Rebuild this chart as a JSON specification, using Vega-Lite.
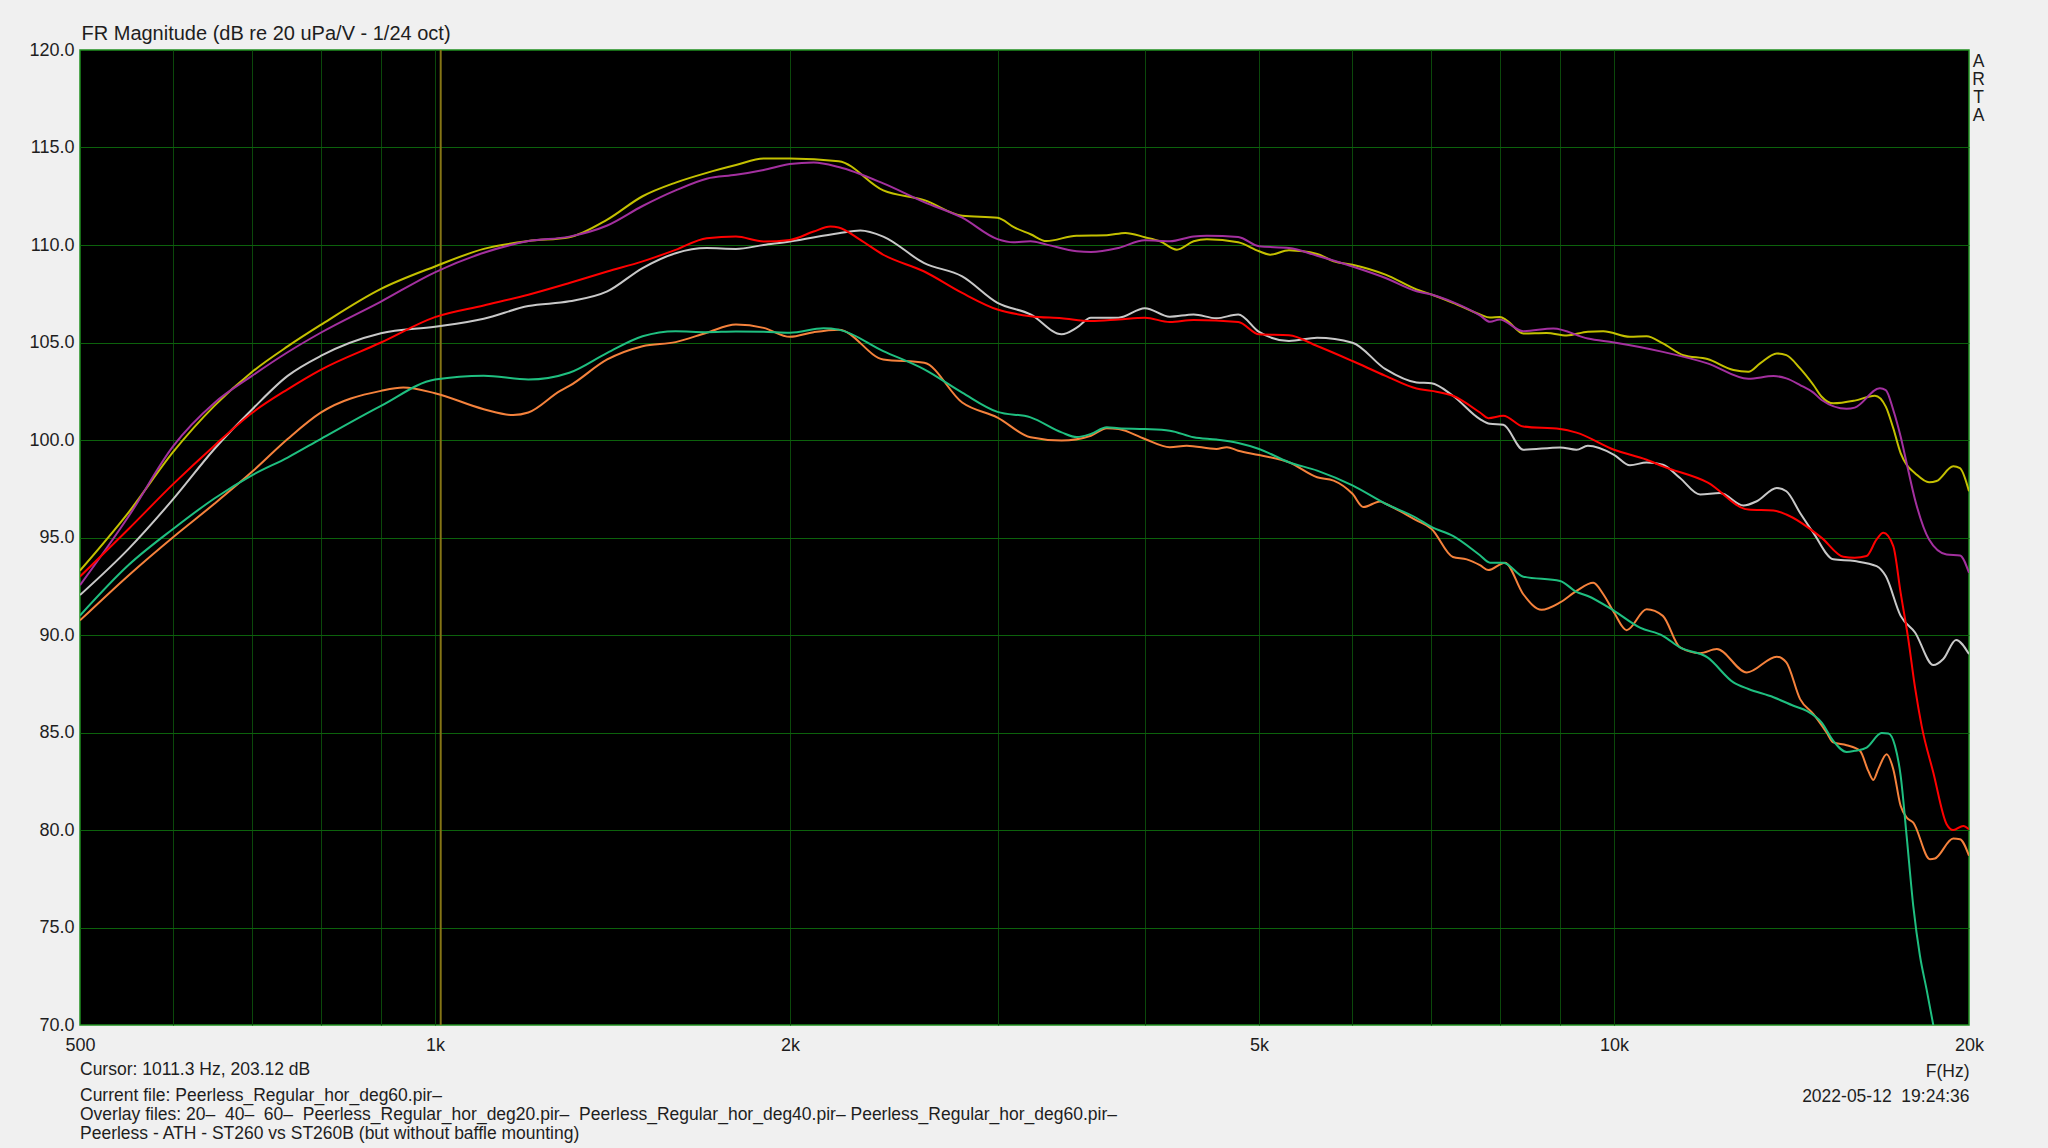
{
  "$schema": "https://vega.github.io/schema/vega-lite/v6.json",
  "width": 1889,
  "height": 975,
  "autosize": {"type": "none"},
  "padding": {"left": 80, "top": 50, "right": 79, "bottom": 123},
  "background": "#f0f0f0",
  "config": {
    "font": "Liberation Sans",
    "view": {"fill": "#000000", "stroke": "#1f8f1f", "strokeWidth": 1.5}
  },
  "title": {
    "text": "Cursor: 1011.3 Hz, 203.12 dB",
    "subtitle": [
      "Current file: Peerless_Regular_hor_deg60.pir–",
      "Overlay files: 20–\u00a0 40–\u00a0 60–\u00a0 Peerless_Regular_hor_deg20.pir–\u00a0 Peerless_Regular_hor_deg40.pir– Peerless_Regular_hor_deg60.pir–",
      "Peerless - ATH - ST260 vs ST260B (but without baffle mounting)"
    ],
    "orient": "bottom",
    "anchor": "start",
    "frame": "group",
    "offset": -44,
    "fontSize": 17.5,
    "fontWeight": "normal",
    "color": "#1e1e1e",
    "subtitleFontSize": 17.5,
    "subtitleColor": "#1e1e1e",
    "subtitleLineHeight": 19.4,
    "subtitlePadding": 8.5
  },
  "datasets": {
    "fr": [
      {"s":"20","f":500,"db":93.3},{"s":"20","f":550,"db":96.3},{"s":"20","f":600,"db":99.4},{"s":"20","f":650,"db":101.75},{"s":"20","f":700,"db":103.5},{"s":"20","f":750,"db":104.8},{"s":"20","f":800,"db":105.9},{"s":"20","f":900,"db":107.75},{"s":"20","f":1000,"db":108.9},{"s":"20","f":1100,"db":109.8},{"s":"20","f":1200,"db":110.2},{"s":"20","f":1300,"db":110.4},{"s":"20","f":1400,"db":111.3},{"s":"20","f":1500,"db":112.5},{"s":"20","f":1600,"db":113.2},{"s":"20","f":1700,"db":113.7},{"s":"20","f":1800,"db":114.1},{"s":"20","f":1900,"db":114.44},{"s":"20","f":2000,"db":114.44},{"s":"20","f":2200,"db":114.3},{"s":"20","f":2400,"db":112.8},{"s":"20","f":2600,"db":112.3},{"s":"20","f":2800,"db":111.5},{"s":"20","f":3000,"db":111.4},{"s":"20","f":3100,"db":110.9},{"s":"20","f":3200,"db":110.55},{"s":"20","f":3300,"db":110.2},{"s":"20","f":3500,"db":110.48},{"s":"20","f":3714,"db":110.5},{"s":"20","f":3850,"db":110.62},{"s":"20","f":4000,"db":110.4},{"s":"20","f":4121,"db":110.19},{"s":"20","f":4258,"db":109.76},{"s":"20","f":4400,"db":110.19},{"s":"20","f":4515,"db":110.3},{"s":"20","f":4800,"db":110.14},{"s":"20","f":5000,"db":109.68},{"s":"20","f":5108,"db":109.5},{"s":"20","f":5300,"db":109.73},{"s":"20","f":5600,"db":109.54},{"s":"20","f":5783,"db":109.17},{"s":"20","f":6000,"db":108.99},{"s":"20","f":6400,"db":108.48},{"s":"20","f":6800,"db":107.72},{"s":"20","f":7000,"db":107.46},{"s":"20","f":7300,"db":107.04},{"s":"20","f":7696,"db":106.44},{"s":"20","f":7848,"db":106.28},{"s":"20","f":8000,"db":106.31},{"s":"20","f":8108,"db":106.14},{"s":"20","f":8376,"db":105.46},{"s":"20","f":8766,"db":105.49},{"s":"20","f":9116,"db":105.36},{"s":"20","f":9500,"db":105.55},{"s":"20","f":9792,"db":105.58},{"s":"20","f":10315,"db":105.29},{"s":"20","f":10657,"db":105.32},{"s":"20","f":11000,"db":104.95},{"s":"20","f":11449,"db":104.35},{"s":"20","f":12000,"db":104.15},{"s":"20","f":12625,"db":103.59},{"s":"20","f":13000,"db":103.5},{"s":"20","f":13300,"db":103.93},{"s":"20","f":13740,"db":104.44},{"s":"20","f":14000,"db":104.35},{"s":"20","f":14381,"db":103.67},{"s":"20","f":14760,"db":102.82},{"s":"20","f":15000,"db":102.22},{"s":"20","f":15344,"db":101.88},{"s":"20","f":16000,"db":102.02},{"s":"20","f":16644,"db":102.27},{"s":"20","f":17000,"db":101.71},{"s":"20","f":17251,"db":100.6},{"s":"20","f":17500,"db":99.33},{"s":"20","f":17706,"db":98.73},{"s":"20","f":18000,"db":98.3},{"s":"20","f":18500,"db":97.83},{"s":"20","f":18775,"db":97.9},{"s":"20","f":19395,"db":98.65},{"s":"20","f":19650,"db":98.56},{"s":"20","f":20000,"db":97.37},

      {"s":"40","f":500,"db":92.05},{"s":"40","f":550,"db":94.43},{"s":"40","f":600,"db":96.98},{"s":"40","f":650,"db":99.54},{"s":"40","f":700,"db":101.58},{"s":"40","f":750,"db":103.29},{"s":"40","f":800,"db":104.31},{"s":"40","f":900,"db":105.47},{"s":"40","f":1000,"db":105.81},{"s":"40","f":1100,"db":106.22},{"s":"40","f":1200,"db":106.87},{"s":"40","f":1300,"db":107.11},{"s":"40","f":1400,"db":107.62},{"s":"40","f":1500,"db":108.82},{"s":"40","f":1600,"db":109.58},{"s":"40","f":1700,"db":109.84},{"s":"40","f":1800,"db":109.8},{"s":"40","f":1900,"db":110.0},{"s":"40","f":2000,"db":110.18},{"s":"40","f":2200,"db":110.6},{"s":"40","f":2295,"db":110.74},{"s":"40","f":2400,"db":110.43},{"s":"40","f":2600,"db":109.07},{"s":"40","f":2800,"db":108.39},{"s":"40","f":3000,"db":107.03},{"s":"40","f":3200,"db":106.44},{"s":"40","f":3400,"db":105.42},{"s":"40","f":3502,"db":105.76},{"s":"40","f":3600,"db":106.27},{"s":"40","f":3800,"db":106.27},{"s":"40","f":4000,"db":106.76},{"s":"40","f":4200,"db":106.32},{"s":"40","f":4400,"db":106.44},{"s":"40","f":4600,"db":106.24},{"s":"40","f":4800,"db":106.44},{"s":"40","f":5000,"db":105.54},{"s":"40","f":5300,"db":105.08},{"s":"40","f":5600,"db":105.25},{"s":"40","f":6000,"db":104.99},{"s":"40","f":6400,"db":103.63},{"s":"40","f":6800,"db":102.95},{"s":"40","f":7000,"db":102.91},{"s":"40","f":7300,"db":102.27},{"s":"40","f":7696,"db":101.07},{"s":"40","f":7848,"db":100.83},{"s":"40","f":8055,"db":100.78},{"s":"40","f":8376,"db":99.5},{"s":"40","f":9000,"db":99.62},{"s":"40","f":9293,"db":99.5},{"s":"40","f":9500,"db":99.7},{"s":"40","f":10000,"db":99.24},{"s":"40","f":10315,"db":98.7},{"s":"40","f":10657,"db":98.85},{"s":"40","f":11000,"db":98.73},{"s":"40","f":11375,"db":98.05},{"s":"40","f":11830,"db":97.2},{"s":"40","f":12301,"db":97.28},{"s":"40","f":12875,"db":96.64},{"s":"40","f":13214,"db":96.86},{"s":"40","f":13740,"db":97.54},{"s":"40","f":14000,"db":97.37},{"s":"40","f":14381,"db":96.26},{"s":"40","f":14760,"db":95.24},{"s":"40","f":15344,"db":93.88},{"s":"40","f":16000,"db":93.79},{"s":"40","f":16698,"db":93.53},{"s":"40","f":17000,"db":93.02},{"s":"40","f":17500,"db":90.98},{"s":"40","f":18000,"db":90.13},{"s":"40","f":18653,"db":88.46},{"s":"40","f":19021,"db":88.77},{"s":"40","f":19500,"db":89.75},{"s":"40","f":20000,"db":89.02},

      {"s":"60","f":500,"db":90.75},{"s":"60","f":550,"db":93.07},{"s":"60","f":600,"db":95.03},{"s":"60","f":650,"db":96.73},{"s":"60","f":700,"db":98.38},{"s":"60","f":750,"db":100.05},{"s":"60","f":800,"db":101.4},{"s":"60","f":900,"db":102.52},{"s":"60","f":940,"db":102.69},{"s":"60","f":1000,"db":102.4},{"s":"60","f":1100,"db":101.58},{"s":"60","f":1165,"db":101.28},{"s":"60","f":1200,"db":101.41},{"s":"60","f":1277,"db":102.52},{"s":"60","f":1300,"db":102.77},{"s":"60","f":1400,"db":104.13},{"s":"60","f":1500,"db":104.81},{"s":"60","f":1600,"db":105.02},{"s":"60","f":1700,"db":105.5},{"s":"60","f":1800,"db":105.92},{"s":"60","f":1900,"db":105.75},{"s":"60","f":2000,"db":105.29},{"s":"60","f":2095,"db":105.53},{"s":"60","f":2200,"db":105.66},{"s":"60","f":2400,"db":104.13},{"s":"60","f":2600,"db":103.96},{"s":"60","f":2800,"db":101.92},{"s":"60","f":3000,"db":101.15},{"s":"60","f":3200,"db":100.14},{"s":"60","f":3400,"db":99.97},{"s":"60","f":3600,"db":100.22},{"s":"60","f":3714,"db":100.6},{"s":"60","f":3800,"db":100.56},{"s":"60","f":4000,"db":100.05},{"s":"60","f":4200,"db":99.63},{"s":"60","f":4341,"db":99.71},{"s":"60","f":4600,"db":99.54},{"s":"60","f":4695,"db":99.63},{"s":"60","f":4800,"db":99.45},{"s":"60","f":5000,"db":99.23},{"s":"60","f":5300,"db":98.86},{"s":"60","f":5600,"db":98.09},{"s":"60","f":5783,"db":97.92},{"s":"60","f":6000,"db":97.24},{"s":"60","f":6129,"db":96.56},{"s":"60","f":6332,"db":96.85},{"s":"60","f":6400,"db":96.73},{"s":"60","f":6800,"db":95.88},{"s":"60","f":7000,"db":95.45},{"s":"60","f":7300,"db":94.0},{"s":"60","f":7500,"db":93.88},{"s":"60","f":7696,"db":93.58},{"s":"60","f":7822,"db":93.33},{"s":"60","f":8081,"db":93.71},{"s":"60","f":8376,"db":92.09},{"s":"60","f":8680,"db":91.29},{"s":"60","f":9000,"db":91.67},{"s":"60","f":9293,"db":92.26},{"s":"60","f":9602,"db":92.68},{"s":"60","f":9792,"db":92.09},{"s":"60","f":10000,"db":91.15},{"s":"60","f":10248,"db":90.25},{"s":"60","f":10657,"db":91.32},{"s":"60","f":11000,"db":90.98},{"s":"60","f":11375,"db":89.36},{"s":"60","f":11830,"db":89.07},{"s":"60","f":12221,"db":89.28},{"s":"60","f":12959,"db":88.08},{"s":"60","f":13740,"db":88.89},{"s":"60","f":14000,"db":88.6},{"s":"60","f":14381,"db":86.71},{"s":"60","f":14760,"db":85.94},{"s":"60","f":15145,"db":85.0},{"s":"60","f":15344,"db":84.49},{"s":"60","f":15748,"db":84.35},{"s":"60","f":16164,"db":84.06},{"s":"60","f":16429,"db":83.03},{"s":"60","f":16590,"db":82.57},{"s":"60","f":16753,"db":83.12},{"s":"60","f":17028,"db":83.89},{"s":"60","f":17251,"db":83.12},{"s":"60","f":17500,"db":81.24},{"s":"60","f":17706,"db":80.64},{"s":"60","f":17938,"db":80.38},{"s":"60","f":18532,"db":78.5},{"s":"60","f":18714,"db":78.54},{"s":"60","f":19395,"db":79.56},{"s":"60","f":19650,"db":79.53},{"s":"60","f":20000,"db":78.68},

      {"s":"deg20","f":500,"db":92.55},{"s":"deg20","f":550,"db":96.1},{"s":"deg20","f":600,"db":99.7},{"s":"deg20","f":650,"db":101.9},{"s":"deg20","f":700,"db":103.3},{"s":"deg20","f":750,"db":104.5},{"s":"deg20","f":800,"db":105.5},{"s":"deg20","f":900,"db":107.1},{"s":"deg20","f":1000,"db":108.6},{"s":"deg20","f":1100,"db":109.6},{"s":"deg20","f":1200,"db":110.2},{"s":"deg20","f":1300,"db":110.43},{"s":"deg20","f":1400,"db":111.0},{"s":"deg20","f":1500,"db":112.0},{"s":"deg20","f":1600,"db":112.8},{"s":"deg20","f":1700,"db":113.4},{"s":"deg20","f":1800,"db":113.6},{"s":"deg20","f":1900,"db":113.85},{"s":"deg20","f":2000,"db":114.15},{"s":"deg20","f":2095,"db":114.23},{"s":"deg20","f":2200,"db":114.0},{"s":"deg20","f":2400,"db":113.16},{"s":"deg20","f":2600,"db":112.2},{"s":"deg20","f":2800,"db":111.4},{"s":"deg20","f":3000,"db":110.3},{"s":"deg20","f":3095,"db":110.14},{"s":"deg20","f":3200,"db":110.19},{"s":"deg20","f":3302,"db":110.02},{"s":"deg20","f":3502,"db":109.68},{"s":"deg20","f":3600,"db":109.64},{"s":"deg20","f":3800,"db":109.85},{"s":"deg20","f":4000,"db":110.24},{"s":"deg20","f":4200,"db":110.19},{"s":"deg20","f":4400,"db":110.44},{"s":"deg20","f":4515,"db":110.48},{"s":"deg20","f":4800,"db":110.41},{"s":"deg20","f":5000,"db":109.93},{"s":"deg20","f":5300,"db":109.85},{"s":"deg20","f":5600,"db":109.45},{"s":"deg20","f":6000,"db":108.9},{"s":"deg20","f":6400,"db":108.31},{"s":"deg20","f":6800,"db":107.63},{"s":"deg20","f":7000,"db":107.46},{"s":"deg20","f":7300,"db":107.07},{"s":"deg20","f":7696,"db":106.39},{"s":"deg20","f":7848,"db":106.06},{"s":"deg20","f":8000,"db":106.18},{"s":"deg20","f":8376,"db":105.58},{"s":"deg20","f":8881,"db":105.72},{"s":"deg20","f":9500,"db":105.2},{"s":"deg20","f":10000,"db":105.0},{"s":"deg20","f":11000,"db":104.52},{"s":"deg20","f":12000,"db":103.93},{"s":"deg20","f":13000,"db":103.14},{"s":"deg20","f":13651,"db":103.28},{"s":"deg20","f":14000,"db":103.16},{"s":"deg20","f":14381,"db":102.82},{"s":"deg20","f":14760,"db":102.43},{"s":"deg20","f":15000,"db":102.05},{"s":"deg20","f":15748,"db":101.6},{"s":"deg20","f":16000,"db":101.66},{"s":"deg20","f":16807,"db":102.65},{"s":"deg20","f":17000,"db":102.56},{"s":"deg20","f":17251,"db":101.54},{"s":"deg20","f":17500,"db":100.18},{"s":"deg20","f":17706,"db":98.82},{"s":"deg20","f":18000,"db":96.94},{"s":"deg20","f":18500,"db":94.9},{"s":"deg20","f":19145,"db":94.13},{"s":"deg20","f":19650,"db":94.08},{"s":"deg20","f":20000,"db":93.19},

      {"s":"deg40","f":500,"db":93.0},{"s":"deg40","f":550,"db":95.45},{"s":"deg40","f":600,"db":97.75},{"s":"deg40","f":650,"db":99.71},{"s":"deg40","f":700,"db":101.4},{"s":"deg40","f":750,"db":102.6},{"s":"deg40","f":800,"db":103.6},{"s":"deg40","f":900,"db":105.0},{"s":"deg40","f":1000,"db":106.3},{"s":"deg40","f":1100,"db":106.9},{"s":"deg40","f":1200,"db":107.45},{"s":"deg40","f":1300,"db":108.05},{"s":"deg40","f":1400,"db":108.64},{"s":"deg40","f":1500,"db":109.16},{"s":"deg40","f":1600,"db":109.75},{"s":"deg40","f":1700,"db":110.35},{"s":"deg40","f":1800,"db":110.43},{"s":"deg40","f":1900,"db":110.18},{"s":"deg40","f":2000,"db":110.26},{"s":"deg40","f":2095,"db":110.69},{"s":"deg40","f":2164,"db":110.95},{"s":"deg40","f":2200,"db":110.9},{"s":"deg40","f":2295,"db":110.26},{"s":"deg40","f":2400,"db":109.5},{"s":"deg40","f":2600,"db":108.64},{"s":"deg40","f":2800,"db":107.54},{"s":"deg40","f":3000,"db":106.69},{"s":"deg40","f":3200,"db":106.35},{"s":"deg40","f":3400,"db":106.24},{"s":"deg40","f":3600,"db":106.1},{"s":"deg40","f":3800,"db":106.18},{"s":"deg40","f":4000,"db":106.27},{"s":"deg40","f":4200,"db":106.05},{"s":"deg40","f":4400,"db":106.15},{"s":"deg40","f":4800,"db":106.05},{"s":"deg40","f":5000,"db":105.42},{"s":"deg40","f":5300,"db":105.37},{"s":"deg40","f":5600,"db":104.82},{"s":"deg40","f":6000,"db":104.05},{"s":"deg40","f":6400,"db":103.29},{"s":"deg40","f":6800,"db":102.64},{"s":"deg40","f":7000,"db":102.52},{"s":"deg40","f":7300,"db":102.27},{"s":"deg40","f":7696,"db":101.41},{"s":"deg40","f":7822,"db":101.12},{"s":"deg40","f":8055,"db":101.24},{"s":"deg40","f":8376,"db":100.69},{"s":"deg40","f":9000,"db":100.57},{"s":"deg40","f":9293,"db":100.38},{"s":"deg40","f":10000,"db":99.5},{"s":"deg40","f":10657,"db":98.99},{"s":"deg40","f":11000,"db":98.65},{"s":"deg40","f":12000,"db":97.83},{"s":"deg40","f":13000,"db":96.43},{"s":"deg40","f":13651,"db":96.38},{"s":"deg40","f":14000,"db":96.18},{"s":"deg40","f":15000,"db":94.98},{"s":"deg40","f":15646,"db":94.01},{"s":"deg40","f":16000,"db":93.96},{"s":"deg40","f":16376,"db":94.05},{"s":"deg40","f":16698,"db":94.9},{"s":"deg40","f":16917,"db":95.24},{"s":"deg40","f":17251,"db":94.56},{"s":"deg40","f":17500,"db":92.17},{"s":"deg40","f":17764,"db":89.79},{"s":"deg40","f":18000,"db":87.3},{"s":"deg40","f":18233,"db":85.34},{"s":"deg40","f":18653,"db":82.95},{"s":"deg40","f":19145,"db":80.3},{"s":"deg40","f":19395,"db":80.0},{"s":"deg40","f":19779,"db":80.21},{"s":"deg40","f":20000,"db":80.04},

      {"s":"deg60","f":500,"db":91.0},{"s":"deg60","f":550,"db":93.6},{"s":"deg60","f":600,"db":95.45},{"s":"deg60","f":650,"db":97.0},{"s":"deg60","f":700,"db":98.2},{"s":"deg60","f":750,"db":99.1},{"s":"deg60","f":800,"db":100.05},{"s":"deg60","f":900,"db":101.75},{"s":"deg60","f":1000,"db":103.1},{"s":"deg60","f":1100,"db":103.3},{"s":"deg60","f":1200,"db":103.1},{"s":"deg60","f":1300,"db":103.45},{"s":"deg60","f":1400,"db":104.47},{"s":"deg60","f":1500,"db":105.32},{"s":"deg60","f":1600,"db":105.58},{"s":"deg60","f":1700,"db":105.53},{"s":"deg60","f":1800,"db":105.56},{"s":"deg60","f":1900,"db":105.55},{"s":"deg60","f":2000,"db":105.5},{"s":"deg60","f":2136,"db":105.73},{"s":"deg60","f":2200,"db":105.66},{"s":"deg60","f":2400,"db":104.56},{"s":"deg60","f":2600,"db":103.62},{"s":"deg60","f":2800,"db":102.43},{"s":"deg60","f":3000,"db":101.44},{"s":"deg60","f":3200,"db":101.16},{"s":"deg60","f":3400,"db":100.39},{"s":"deg60","f":3502,"db":100.15},{"s":"deg60","f":3600,"db":100.31},{"s":"deg60","f":3714,"db":100.65},{"s":"deg60","f":3800,"db":100.6},{"s":"deg60","f":4000,"db":100.56},{"s":"deg60","f":4200,"db":100.48},{"s":"deg60","f":4400,"db":100.14},{"s":"deg60","f":4600,"db":100.02},{"s":"deg60","f":4800,"db":99.85},{"s":"deg60","f":5000,"db":99.54},{"s":"deg60","f":5300,"db":98.86},{"s":"deg60","f":5600,"db":98.43},{"s":"deg60","f":6000,"db":97.67},{"s":"deg60","f":6400,"db":96.73},{"s":"deg60","f":6800,"db":96.0},{"s":"deg60","f":7000,"db":95.54},{"s":"deg60","f":7300,"db":95.08},{"s":"deg60","f":7696,"db":94.09},{"s":"deg60","f":7848,"db":93.71},{"s":"deg60","f":8055,"db":93.71},{"s":"deg60","f":8376,"db":92.99},{"s":"deg60","f":9000,"db":92.77},{"s":"deg60","f":9293,"db":92.21},{"s":"deg60","f":9500,"db":92.0},{"s":"deg60","f":10000,"db":91.24},{"s":"deg60","f":10519,"db":90.38},{"s":"deg60","f":11000,"db":89.96},{"s":"deg60","f":11375,"db":89.36},{"s":"deg60","f":12000,"db":88.85},{"s":"deg60","f":12625,"db":87.57},{"s":"deg60","f":13000,"db":87.23},{"s":"deg60","f":13651,"db":86.81},{"s":"deg60","f":14195,"db":86.37},{"s":"deg60","f":14569,"db":86.11},{"s":"deg60","f":15000,"db":85.51},{"s":"deg60","f":15344,"db":84.57},{"s":"deg60","f":15748,"db":84.0},{"s":"deg60","f":16000,"db":84.06},{"s":"deg60","f":16376,"db":84.23},{"s":"deg60","f":16862,"db":84.97},{"s":"deg60","f":17084,"db":84.95},{"s":"deg60","f":17308,"db":84.32},{"s":"deg60","f":17500,"db":82.8},{"s":"deg60","f":17706,"db":79.7},{"s":"deg60","f":17938,"db":76.1},{"s":"deg60","f":18173,"db":73.55},{"s":"deg60","f":18408,"db":71.84},{"s":"deg60","f":18653,"db":70.0}
    ]
  },
  "layer": [
    {
      "data": {"values": [{"f": 1011.3}]},
      "mark": {"type": "rule", "color": "#857515", "strokeWidth": 2},
      "encoding": {
        "x": {"field": "f", "type": "quantitative", "scale": {"type": "log", "domain": [500, 20000], "nice": false}},
        "y": {
          "datum": 70, "type": "quantitative",
          "scale": {"domain": [70, 120], "nice": false, "zero": false},
          "axis": {
            "orient": "right",
            "title": ["A", "R", "T", "A"],
            "labels": false, "ticks": false, "domain": false, "grid": false,
            "titleAngle": 0, "titleAlign": "center", "titleBaseline": "alphabetic",
            "titleX": 9, "titleY": 16, "titleLineHeight": 18,
            "titleFontSize": 17.5, "titleFontWeight": "normal", "titleColor": "#1e1e1e",
            "titleFont": "Liberation Sans"
          }
        },
        "y2": {"datum": 120}
      }
    },
    {
      "data": {"name": "fr"},
      "mark": {"type": "line", "strokeWidth": 2, "clip": true, "interpolate": "monotone"},
      "encoding": {
        "x": {
          "field": "f", "type": "quantitative",
          "scale": {"type": "log", "domain": [500, 20000], "nice": false},
          "axis": {
            "orient": "bottom",
            "values": [500, 600, 700, 800, 900, 1000, 2000, 3000, 4000, 5000, 6000, 7000, 8000, 9000, 10000, 20000],
            "labelExpr": "indexof([500,1000,2000,5000,10000,20000], datum.value) >= 0 ? (datum.value >= 1000 ? (datum.value / 1000) + 'k' : '' + datum.value) : ''",
            "grid": true,
            "gridColor": {"condition": {"test": "datum.value == 500 || datum.value == 20000", "value": "transparent"}, "value": "#0b480b"},
            "gridWidth": 1,
            "domain": false, "ticks": false, "tickSize": 0,
            "labelPadding": 20, "labelBaseline": "middle", "labelFlush": false, "labelOverlap": false, "labelBound": false,
            "labelFontSize": 18, "labelColor": "#1e1e1e", "labelFont": "Liberation Sans",
            "title": ["F(Hz)", "2022-05-12\u00a0 19:24:36"],
            "titleAlign": "right", "titleBaseline": "alphabetic", "titleAnchor": "end",
            "titleX": 1889, "titleY": 51, "titleLineHeight": 25,
            "titleFontSize": 17.5, "titleFontWeight": "normal", "titleColor": "#1e1e1e", "titleFont": "Liberation Sans"
          }
        },
        "y": {
          "field": "db", "type": "quantitative",
          "scale": {"domain": [70, 120], "nice": false, "zero": false},
          "axis": {
            "orient": "left",
            "values": [70, 75, 80, 85, 90, 95, 100, 105, 110, 115, 120],
            "format": ".1f",
            "grid": true,
            "gridColor": {"condition": {"test": "datum.value == 70 || datum.value == 120", "value": "transparent"}, "value": "#0c620c"},
            "gridWidth": 1,
            "domain": false, "ticks": false, "tickSize": 0,
            "labelPadding": 6, "labelOverlap": false, "labelBound": false, "labelFlush": false,
            "labelFontSize": 18, "labelColor": "#1e1e1e", "labelFont": "Liberation Sans",
            "title": "FR Magnitude (dB re 20 uPa/V - 1/24 oct)",
            "titleAngle": 0, "titleAlign": "left", "titleBaseline": "alphabetic",
            "titleX": 1, "titleY": -10.5,
            "titleFontSize": 20, "titleFontWeight": "normal", "titleColor": "#1e1e1e", "titleFont": "Liberation Sans"
          }
        },
        "color": {
          "field": "s", "type": "nominal",
          "scale": {
            "domain": ["20", "40", "60", "deg20", "deg40", "deg60"],
            "range": ["#c4c000", "#c8c8c8", "#f5823c", "#a3309f", "#ff0000", "#1fbf80"]
          },
          "legend": null
        }
      }
    }
  ],
  "resolve": {"axis": {"y": "independent"}}
}
